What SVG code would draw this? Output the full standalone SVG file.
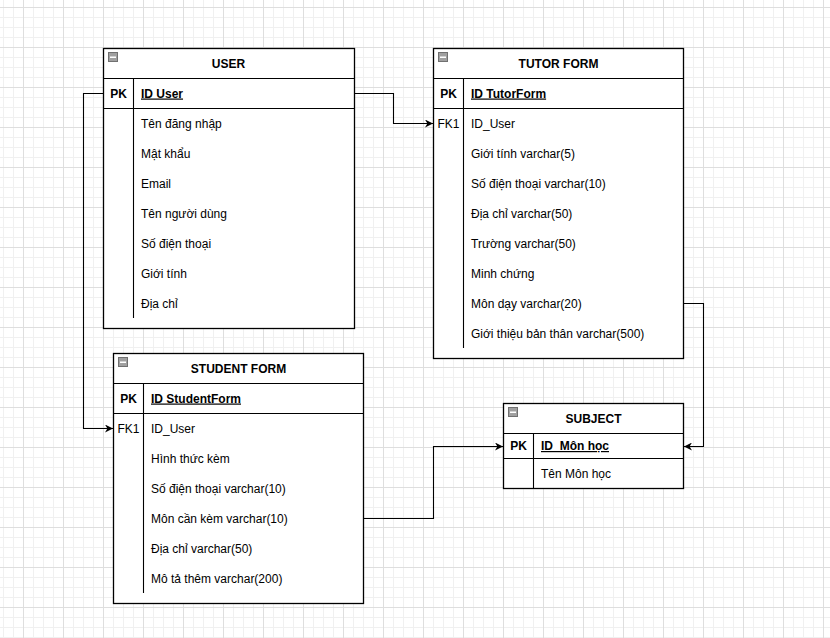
<svg xmlns="http://www.w3.org/2000/svg" width="830" height="638" viewBox="0 0 830 638">
  <defs>
    <pattern id="grid" x="23" y="7" width="40" height="40" patternUnits="userSpaceOnUse">
      <rect width="40" height="40" fill="#ffffff"/>
      <g fill="#f0f0f0">
        <rect x="10" y="0" width="1" height="40"/>
        <rect x="20" y="0" width="1" height="40"/>
        <rect x="30" y="0" width="1" height="40"/>
        <rect x="0" y="10" width="40" height="1"/>
        <rect x="0" y="20" width="40" height="1"/>
        <rect x="0" y="30" width="40" height="1"/>
      </g>
      <g fill="#dedede">
        <rect x="0" y="0" width="1" height="40"/>
        <rect x="0" y="0" width="40" height="1"/>
      </g>
    </pattern>
    <marker id="arrow" viewBox="0 0 10 10" refX="10" refY="5" markerWidth="8" markerHeight="8" markerUnits="userSpaceOnUse" orient="auto">
      <path d="M0,0 L10,5 L0,10 L3,5 Z" fill="#000"/>
    </marker>
    <g id="collapse">
      <rect x="0" y="0" width="9" height="9" fill="#a0a0a0" stroke="#707070" stroke-width="1"/>
      <rect x="1.5" y="4" width="6" height="1.5" fill="#ffffff"/>
    </g>
  </defs>
  <style>
    .box { fill: #ffffff; stroke: #000000; stroke-width: 1.3; }
    .ln { stroke: #000000; stroke-width: 1.1; fill: none; }
    .title { font-family: "Liberation Sans", Arial, sans-serif; font-size: 12px; font-weight: bold; text-anchor: middle; fill: #000; }
    .key { font-family: "Liberation Sans", Arial, sans-serif; font-size: 12px; text-anchor: middle; fill: #000; }
    .pk { font-weight: bold; }
    .field { font-family: "Liberation Sans", Arial, sans-serif; font-size: 12px; fill: #000; }
    .id { font-weight: bold; text-decoration: underline; }
    .edge { stroke: #000000; stroke-width: 1.1; fill: none; marker-end: url(#arrow); }
  </style>

  <rect width="830" height="638" fill="url(#grid)"/>

  <!-- USER table -->
  <g id="user">
    <rect class="box" x="103.5" y="48.5" width="251" height="280"/>
    <line class="ln" x1="103.5" y1="78.5" x2="354.5" y2="78.5"/>
    <line class="ln" x1="103.5" y1="108.5" x2="354.5" y2="108.5"/>
    <line class="ln" x1="133.5" y1="78.5" x2="133.5" y2="318"/>
    <use href="#collapse" x="108.5" y="52.5"/>
    <text class="title" x="228.5" y="67.5">USER</text>
    <text class="key pk" x="118.5" y="97.5">PK</text>
    <text class="field id" x="141" y="97.5">ID User</text>
    <text class="field" x="141" y="127.5">Tên đăng nhập</text>
    <text class="field" x="141" y="157.5">Mật khẩu</text>
    <text class="field" x="141" y="187.5">Email</text>
    <text class="field" x="141" y="217.5">Tên người dùng</text>
    <text class="field" x="141" y="247.5">Số điện thoại</text>
    <text class="field" x="141" y="277.5">Giới tính</text>
    <text class="field" x="141" y="307.5">Địa chỉ</text>
  </g>

  <!-- TUTOR FORM table -->
  <g id="tutor-form">
    <rect class="box" x="433.5" y="48.5" width="250" height="310"/>
    <line class="ln" x1="433.5" y1="78.5" x2="683.5" y2="78.5"/>
    <line class="ln" x1="433.5" y1="108.5" x2="683.5" y2="108.5"/>
    <line class="ln" x1="463.5" y1="78.5" x2="463.5" y2="348"/>
    <use href="#collapse" x="438.5" y="52.5"/>
    <text class="title" x="558.5" y="67.5">TUTOR FORM</text>
    <text class="key pk" x="448.5" y="97.5">PK</text>
    <text class="field id" x="471" y="97.5">ID TutorForm</text>
    <text class="key" x="448.5" y="127.5">FK1</text>
    <text class="field" x="471" y="127.5">ID_User</text>
    <text class="field" x="471" y="157.5">Giới tính varchar(5)</text>
    <text class="field" x="471" y="187.5">Số điện thoại varchar(10)</text>
    <text class="field" x="471" y="217.5">Địa chỉ varchar(50)</text>
    <text class="field" x="471" y="247.5">Trường varchar(50)</text>
    <text class="field" x="471" y="277.5">Minh chứng</text>
    <text class="field" x="471" y="307.5">Môn dạy varchar(20)</text>
    <text class="field" x="471" y="337.5">Giới thiệu bản thân varchar(500)</text>
  </g>

  <!-- STUDENT FORM table -->
  <g id="student-form">
    <rect class="box" x="113.5" y="353.5" width="250" height="250"/>
    <line class="ln" x1="113.5" y1="383.5" x2="363.5" y2="383.5"/>
    <line class="ln" x1="113.5" y1="413.5" x2="363.5" y2="413.5"/>
    <line class="ln" x1="143.5" y1="383.5" x2="143.5" y2="593"/>
    <use href="#collapse" x="118.5" y="357.5"/>
    <text class="title" x="238.5" y="372.5">STUDENT FORM</text>
    <text class="key pk" x="128.5" y="402.5">PK</text>
    <text class="field id" x="151" y="402.5">ID StudentForm</text>
    <text class="key" x="128.5" y="432.5">FK1</text>
    <text class="field" x="151" y="432.5">ID_User</text>
    <text class="field" x="151" y="462.5">Hình thức kèm</text>
    <text class="field" x="151" y="492.5">Số điện thoại varchar(10)</text>
    <text class="field" x="151" y="522.5">Môn cần kèm varchar(10)</text>
    <text class="field" x="151" y="552.5">Địa chỉ varchar(50)</text>
    <text class="field" x="151" y="582.5">Mô tả thêm varchar(200)</text>
  </g>

  <!-- SUBJECT table -->
  <g id="subject">
    <rect class="box" x="503.5" y="403.5" width="180" height="85"/>
    <line class="ln" x1="503.5" y1="433.5" x2="683.5" y2="433.5"/>
    <line class="ln" x1="503.5" y1="458.5" x2="683.5" y2="458.5"/>
    <line class="ln" x1="533.5" y1="433.5" x2="533.5" y2="488.5"/>
    <use href="#collapse" x="508.5" y="407.5"/>
    <text class="title" x="593.5" y="422.5">SUBJECT</text>
    <text class="key pk" x="518.5" y="450">PK</text>
    <text class="field id" x="541" y="450">ID_Môn học</text>
    <text class="field" x="541" y="477.5">Tên Môn học</text>
  </g>

  <!-- relationships -->
  <g id="connectors">
    <path class="edge" d="M354.5,93.5 H393.5 V123.5 H433"/>
    <path class="edge" d="M103.5,93.5 H83.5 V428.5 H113"/>
    <path class="edge" d="M683.5,303.5 H703.5 V446.5 H684"/>
    <path class="edge" d="M363.5,518.5 H433.5 V446.5 H503"/>
  </g>
</svg>
